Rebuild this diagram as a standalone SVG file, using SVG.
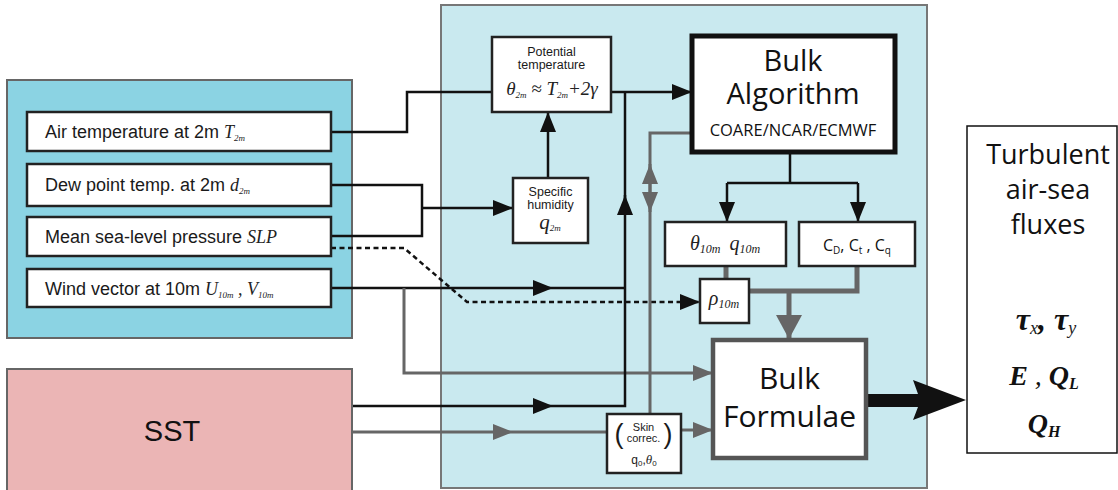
<svg xmlns="http://www.w3.org/2000/svg" width="1118" height="490" viewBox="0 0 1118 490">
<style>
.lbl{font-family:"Liberation Sans",Arial,sans-serif;font-size:18px;fill:#1a1a1a}
.sm{font-family:"Liberation Sans",Arial,sans-serif;fill:#1a1a1a}
.os{font-family:"Open Sans","Noto Sans",sans-serif;fill:#111}
.mi{font-family:"Liberation Serif","Times New Roman",serif;font-style:italic;fill:#222}
.mb{font-family:"Liberation Serif","Times New Roman",serif;font-style:italic;font-weight:bold;fill:#111}
.box{fill:#fff;stroke:#222;stroke-width:2.5}
.k{fill:none;stroke:#111;stroke-width:2.5}
.g{fill:none;stroke:#666;stroke-width:3}
.gt{fill:none;stroke:#666;stroke-width:5}
.d{fill:none;stroke:#111;stroke-width:2.5;stroke-dasharray:5,3.5}
</style>
<defs>
<marker id="ak" markerUnits="userSpaceOnUse" markerWidth="20" markerHeight="16" refX="20" refY="8" orient="auto"><path d="M0,0 L20,8 L0,16 z" fill="#111"/></marker>
<marker id="ag" markerUnits="userSpaceOnUse" markerWidth="20" markerHeight="16" refX="20" refY="8" orient="auto"><path d="M0,0 L20,8 L0,16 z" fill="#666"/></marker>
<marker id="agb" markerUnits="userSpaceOnUse" markerWidth="24" markerHeight="26" refX="24" refY="13" orient="auto"><path d="M0,0 L24,13 L0,26 z" fill="#666"/></marker>
</defs>

<!-- panels -->
<g id="input-panel"><rect x="7" y="80" width="345" height="258" fill="#8bd3e3" stroke="#666" stroke-width="2"/></g>
<g id="processing-panel"><rect x="441" y="5" width="486" height="483" fill="#c9e9ef" stroke="#777" stroke-width="2"/></g>

<!-- connectors -->
<g id="connectors">
<path class="k" d="M331,132 H407 V92 H492"/>
<path class="k" d="M331,185 H422 V236 H331"/>
<path class="k" d="M422,208 H513" marker-end="url(#ak)"/>
<path class="d" d="M331,248 H404 L467,302 H700" marker-end="url(#ak)"/>
<path class="k" d="M331,288 H553" marker-end="url(#ak)"/>
<path class="k" d="M553,288 H625"/>
<path class="g" d="M404,288 V373 H713" marker-end="url(#ag)"/>
<path class="k" d="M352,406 H553" marker-end="url(#ak)"/>
<path class="k" d="M553,406 H625 V195"/>
<path class="k" d="M625,215 V195" marker-end="url(#ak)"/>
<path class="k" d="M625,195 V92"/>
<path class="k" d="M611,92 H692" marker-end="url(#ak)"/>
<path class="k" d="M548,178 V112" marker-end="url(#ak)"/>
<path class="k" d="M790,152 V183 M727,183 H858"/>
<path class="k" d="M727,183 V222" marker-end="url(#ak)"/>
<path class="k" d="M858,183 V222" marker-end="url(#ak)"/>
<path class="g" d="M692,133 H650 V414"/>
<path class="g" d="M650,190 V164" marker-end="url(#ag)"/>
<path class="g" d="M650,190 V212" marker-end="url(#ag)"/>
<path class="gt" d="M726,266 V279"/>
<path class="gt" d="M857,266 V291 H749"/>
<path class="gt" d="M789,291 V339" marker-end="url(#agb)"/>
<path class="g" d="M352,432 H513" marker-end="url(#ag)"/>
<path class="g" d="M513,432 H607"/>
<path class="g" d="M681,430 H713" marker-end="url(#ag)"/>
<path d="M868,394 H918 L913,380 L966,400 L913,420 L918,407 H868 z" fill="#111"/>
</g>

<!-- input nodes -->
<g id="air-temp"><rect class="box" x="27" y="112" width="304" height="39"/>
<text class="lbl" x="45" y="138">Air temperature at 2m <tspan class="mi" font-size="18">T</tspan><tspan class="mi" font-size="9" dy="3">2m</tspan></text></g>
<g id="dew-point"><rect class="box" x="27" y="164" width="304" height="42"/>
<text class="lbl" x="45" y="191">Dew point temp. at 2m <tspan class="mi" font-size="18">d</tspan><tspan class="mi" font-size="9" dy="3">2m</tspan></text></g>
<g id="slp"><rect class="box" x="27" y="217" width="304" height="39"/>
<text class="lbl" x="45" y="243">Mean sea-level pressure <tspan class="mi" font-size="18">SLP</tspan></text></g>
<g id="wind"><rect class="box" x="27" y="269" width="304" height="38"/>
<text class="lbl" x="45" y="295">Wind vector at 10m <tspan class="mi" font-size="18">U</tspan><tspan class="mi" font-size="9" dy="3">10m</tspan><tspan class="mi" font-size="18" dy="-3"> , V</tspan><tspan class="mi" font-size="9" dy="3">10m</tspan></text></g>

<g id="sst"><rect x="7" y="369" width="345" height="125" fill="#ebb5b5" stroke="#666" stroke-width="2"/>
<text x="172" y="441" text-anchor="middle" font-family="Liberation Sans,Arial,sans-serif" font-size="29" fill="#111">SST</text></g>

<!-- processing nodes -->
<g id="potential-temp"><rect class="box" x="492" y="37" width="119" height="75" stroke-width="2"/>
<text class="sm" x="551.5" y="56" text-anchor="middle" font-size="12.5">Potential</text>
<text class="sm" x="551.5" y="69" text-anchor="middle" font-size="12.5">temperature</text>
<text class="mi" x="552" y="95" text-anchor="middle" font-size="19">θ<tspan font-size="9" dy="3">2m</tspan><tspan dy="-3"> ≈ T</tspan><tspan font-size="9" dy="3">2m</tspan><tspan dy="-3">+2γ</tspan></text></g>

<g id="specific-humidity"><rect class="box" x="513" y="178" width="75" height="65" stroke-width="2"/>
<text class="sm" x="550.5" y="196" text-anchor="middle" font-size="12.5">Specific</text>
<text class="sm" x="550.5" y="209" text-anchor="middle" font-size="12.5">humidity</text>
<text class="mi" x="550" y="229" text-anchor="middle" font-size="21">q<tspan font-size="9" dy="2">2m</tspan></text></g>

<g id="bulk-algorithm"><rect x="692" y="36" width="203" height="116" fill="#fff" stroke="#111" stroke-width="5"/>
<text class="os" x="793" y="71" text-anchor="middle" font-size="29">Bulk</text>
<text class="os" x="793" y="104" text-anchor="middle" font-size="29">Algorithm</text>
<text class="os" x="793" y="136" text-anchor="middle" font-size="16.5">COARE/NCAR/ECMWF</text></g>

<g id="theta-q-10m"><rect class="box" x="665" y="222" width="121" height="44"/>
<text class="mi" x="725" y="250" text-anchor="middle" font-size="20" fill="#333">θ<tspan font-size="12" dy="3">10m</tspan><tspan dx="9" dy="-3">q</tspan><tspan font-size="12" dy="3">10m</tspan></text></g>

<g id="coefficients"><rect class="box" x="799" y="222" width="116" height="44"/>
<text class="os" x="857" y="251" text-anchor="middle" font-size="16">C<tspan font-size="10" dy="3">D</tspan><tspan dy="-3">, C</tspan><tspan font-size="10" dy="3">t</tspan><tspan dy="-3"> , C</tspan><tspan font-size="10" dy="3">q</tspan></text></g>

<g id="rho-10m"><rect class="box" x="700" y="279" width="49" height="44"/>
<text class="mi" x="724" y="305" text-anchor="middle" font-size="20" fill="#333">ρ<tspan font-size="12" dy="3">10m</tspan></text></g>

<g id="bulk-formulae"><rect x="713" y="340" width="153" height="118" fill="#fff" stroke="#555" stroke-width="4.5"/>
<text class="os" x="789.5" y="389" text-anchor="middle" font-size="30">Bulk</text>
<text class="os" x="789.5" y="427" text-anchor="middle" font-size="30">Formulae</text></g>

<g id="skin-correction"><rect class="box" x="607" y="414" width="74" height="59"/>
<text class="sm" x="619" y="443" text-anchor="middle" font-size="27" fill="#333">(</text>
<text class="sm" x="668" y="443" text-anchor="middle" font-size="27" fill="#333">)</text>
<text class="sm" x="643.5" y="431" text-anchor="middle" font-size="11" fill="#333">Skin</text>
<text class="sm" x="643.5" y="442" text-anchor="middle" font-size="11" fill="#333">correc.</text>
<text class="sm" x="644" y="464" text-anchor="middle" font-size="12">q<tspan font-size="8" dy="2">0</tspan><tspan dy="-2">,</tspan><tspan class="mi" font-size="13">θ</tspan><tspan font-size="8" dy="2">0</tspan></text></g>

<g id="turbulent-fluxes"><rect x="967" y="126" width="150" height="327" fill="#fff" stroke="#111" stroke-width="1.5"/>
<text class="os" x="1048" y="164" text-anchor="middle" font-size="27">Turbulent</text>
<text class="os" x="1048" y="199" text-anchor="middle" font-size="27">air-sea</text>
<text class="os" x="1048" y="234" text-anchor="middle" font-size="27">fluxes</text>
<text class="mb" x="1046" y="330" text-anchor="middle" font-size="32">τ<tspan class="mi" font-weight="normal" font-size="18" dy="4">x</tspan><tspan dy="-4">, τ</tspan><tspan class="mi" font-weight="normal" font-size="18" dy="4">y</tspan></text>
<text class="mb" x="1044" y="385" text-anchor="middle" font-size="28">E<tspan font-weight="normal"> , </tspan>Q<tspan font-size="16" dy="4">L</tspan></text>
<text class="mb" x="1044" y="433" text-anchor="middle" font-size="28">Q<tspan font-size="16" dy="4">H</tspan></text></g>
</svg>
